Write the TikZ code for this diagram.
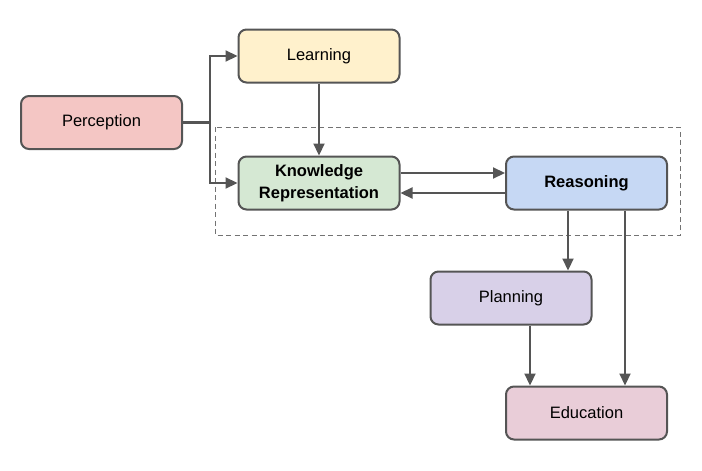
\documentclass[tikz,border=0pt]{standalone}
\usepackage{fontspec}
\setmainfont{Liberation Sans}
\usetikzlibrary{arrows.meta}
\definecolor{edgegray}{HTML}{555555}
\definecolor{percfill}{HTML}{F4C6C4}
\definecolor{learnfill}{HTML}{FFF1CC}
\definecolor{knowfill}{HTML}{D5E8D3}
\definecolor{reasfill}{HTML}{C6D8F4}
\definecolor{planfill}{HTML}{D8D0E8}
\definecolor{edufill}{HTML}{E9CDD8}
\tikzset{
  box/.style={draw=edgegray, line width=2pt, rounded corners=8pt,
    minimum width=161pt, minimum height=53pt, inner sep=0pt,
    align=center, font=\fontsize{16.5}{22}\selectfont},
  boldbox/.style={box, font=\fontsize{16.5}{22}\selectfont\bfseries},
  conn/.style={draw=edgegray, line width=2.2pt,
    -{Triangle[length=12pt,width=11pt]}},
  group/.style={draw=black!55, line width=1pt, dash pattern=on 5pt off 3.5pt}
}
\begin{document}
\begin{tikzpicture}[x=1pt,y=-1pt]
\useasboundingbox (0,0) rectangle (702,471);
% group frame around the knowledge / reasoning core
\draw[group] (215,127) rectangle (680,235);

\node[box, fill=percfill]  (perc) at (101.5,122.5) {Perception};
\node[box, fill=learnfill] (learn) at (319,56) {Learning};
\node[boldbox, fill=knowfill] (know) at (319,183) {Knowledge\\Representation};
\node[boldbox, fill=reasfill] (reas) at (586.5,183) {Reasoning};
\node[box, fill=planfill]  (plan) at (511,298) {Planning};
\node[box, fill=edufill]   (edu) at (586.5,413) {Education};

% perception fans out to learning and knowledge
\coordinate (split) at (210,122.5);
\draw[draw=edgegray, line width=2.2pt] (perc.east) -- (split);
\draw[conn] (split) |- (learn.west);
\draw[conn] (split) |- (know.west);

\draw[conn] (learn.south) -- (know.north);
\draw[conn] ([yshift=10pt]know.east) -- ([yshift=10pt]reas.west);
\draw[conn] ([yshift=-10pt]reas.west) -- ([yshift=-10pt]know.east);

\draw[conn] ([xshift=-18.5pt]reas.south) -- ([xshift=57pt]plan.north);
\draw[conn] ([xshift=38.5pt]reas.south) -- ([xshift=38.5pt]edu.north);
\draw[conn] ([xshift=19pt]plan.south) -- ([xshift=-56.5pt]edu.north);
\end{tikzpicture}
\end{document}
